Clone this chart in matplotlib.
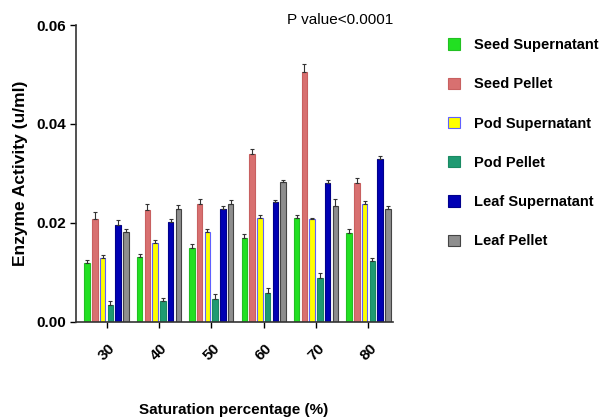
import matplotlib
matplotlib.use("Agg")
import matplotlib.pyplot as plt
import numpy as np

plt.rcParams['font.family'] = ['Liberation Sans', 'DejaVu Sans']

categories = ["30", "40", "50", "60", "70", "80"]
series_names = ["Seed Supernatant", "Seed Pellet", "Pod Supernatant",
                "Pod Pellet", "Leaf Supernatant", "Leaf Pellet"]
seed_sup = [0.0119, 0.0131, 0.0149, 0.0169, 0.0210, 0.0180]
seed_pel = [0.0207, 0.0227, 0.0239, 0.0340, 0.0506, 0.0280]
pod_sup = [0.0130, 0.0159, 0.0181, 0.0210, 0.0207, 0.0239]
pod_pel = [0.0035, 0.0042, 0.0047, 0.0059, 0.0089, 0.0124]
leaf_sup = [0.0195, 0.0201, 0.0228, 0.0243, 0.0280, 0.0329]
leaf_pel = [0.0182, 0.0228, 0.0239, 0.0282, 0.0235, 0.0229]
seed_sup_err = [0.0007, 0.0007, 0.0008, 0.0008, 0.0007, 0.0007]
seed_pel_err = [0.0015, 0.0012, 0.0009, 0.0009, 0.0015, 0.0010]
pod_sup_err = [0.0006, 0.0007, 0.0006, 0.0006, 0.0004, 0.0005]
pod_pel_err = [0.0008, 0.0007, 0.0010, 0.0009, 0.0010, 0.0006]
leaf_sup_err = [0.0010, 0.0008, 0.0007, 0.0003, 0.0006, 0.0006]
leaf_pel_err = [0.0006, 0.0008, 0.0007, 0.0005, 0.0013, 0.0006]

values = [seed_sup, seed_pel, pod_sup, pod_pel, leaf_sup, leaf_pel]
errors = [seed_sup_err, seed_pel_err, pod_sup_err, pod_pel_err, leaf_sup_err, leaf_pel_err]
colors = ["#22e022", "#d87070", "#ffff00", "#1f9a72", "#0000b4", "#8e8e8e"]
edges = ["#22c022", "#c86060", "#6060ff", "#1a8a62", "#00008c", "#444444"]

fig = plt.figure(figsize=(6.0, 4.17), dpi=100)
ax = fig.add_axes([0.127, 0.228, 0.528, 0.712])

x = np.arange(len(categories))
step = 0.148
width = 0.105
for i, (vals, errs) in enumerate(zip(values, errors)):
    pos = x + (i - 2.5) * step
    ax.bar(pos, vals, width=width, color=colors[i], edgecolor=edges[i],
           linewidth=0.8, label=series_names[i], zorder=2)
    ax.errorbar(pos, vals, yerr=[np.zeros(len(errs)), errs], fmt='none',
                ecolor='#333333', elinewidth=0.8, capsize=1.5, capthick=0.8, zorder=3)

ax.set_xlim(-0.58, 5.47)
ax.set_ylim(0, 0.06)
ax.set_yticks([0.0, 0.02, 0.04, 0.06])
ax.set_yticklabels(["0.00", "0.02", "0.04", "0.06"], fontweight='bold', fontsize=11)
ax.set_xticks(x)
ax.set_xticklabels(categories, rotation=45, fontweight='bold', fontsize=11,
                   ha='center', va='top')
ax.tick_params(axis='x', pad=10, length=4, width=1)
ax.tick_params(axis='y', length=4, width=1)
for s in ['top', 'right']:
    ax.spines[s].set_visible(False)
for s in ['left', 'bottom']:
    ax.spines[s].set_linewidth(1.2)
    ax.spines[s].set_color('#333333')

ax.set_ylabel("Enzyme Activity (u/ml)", fontweight='bold', fontsize=12.5, labelpad=6)
fig.text(0.39, 0.0, "Saturation percentage (%)", ha='center', va='bottom',
         fontweight='bold', fontsize=11)
ax.text(1.0, 1.04, "P value<0.0001", transform=ax.transAxes, ha='right', va='top',
        fontsize=11)

leg = fig.legend(loc='upper left', bbox_to_anchor=(0.725, 0.94), frameon=False,
                 handlelength=0.8, handleheight=0.8, labelspacing=1.73,
                 handletextpad=1.0, prop={'weight': 'bold', 'size': 10.5})

fig.savefig("out.png", dpi=100)
